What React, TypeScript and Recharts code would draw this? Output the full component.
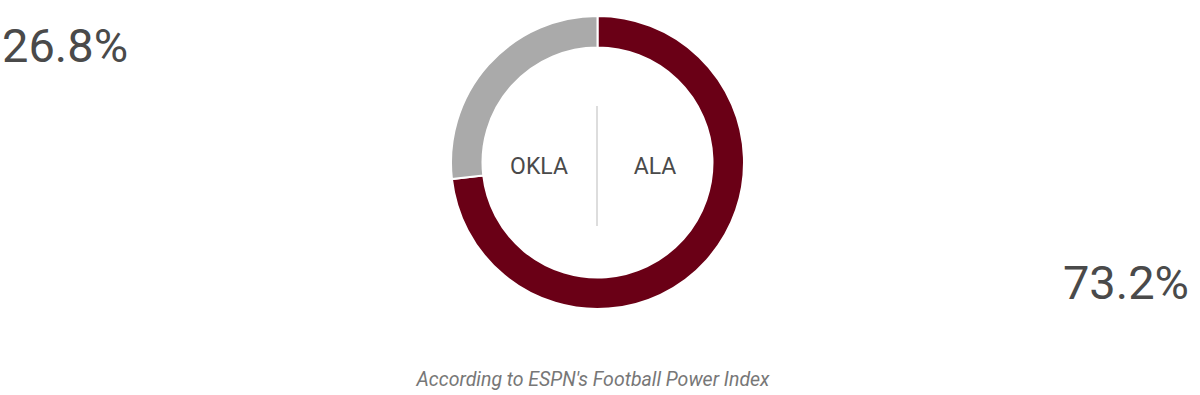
import { PieChart, Pie, Cell } from "recharts";

const teams = ["ALA", "OKLA"];
const winProb = [73.2, 26.8];
const teamColors = ["#6a0016", "#aaaaaa"];
const note = "According to ESPN's Football Power Index";

const data = teams.map((name, i) => ({ name, value: winProb[i] }));

const textStyle = {
  position: "absolute" as const,
  fontFamily: "Roboto, sans-serif",
  color: "#4a4a4a",
  whiteSpace: "nowrap" as const,
  lineHeight: 1,
};

export default function App() {
  return (
    <div style={{ position: "absolute", left: 0, top: 0, width: 1200, height: 395, background: "#fff" }}>
      <PieChart width={1200} height={395} margin={{ top: 0, right: 0, bottom: 0, left: 0 }}>
        <Pie
          data={data}
          dataKey="value"
          nameKey="name"
          cx={597.5}
          cy={162.5}
          innerRadius={115}
          outerRadius={146.5}
          startAngle={90}
          endAngle={-270}
          stroke="#fff"
          strokeWidth={2}
          isAnimationActive={false}
        >
          {data.map((d, i) => (
            <Cell key={d.name} fill={teamColors[i]} />
          ))}
        </Pie>
      </PieChart>

      <div style={{ position: "absolute", left: 596, top: 106, width: 2, height: 120, background: "#dddddd" }} />

      <div style={{ ...textStyle, left: 539, top: 166, fontSize: 23, transform: "translate(-50%, -50%)" }}>
        {teams[1]}
      </div>
      <div style={{ ...textStyle, left: 655, top: 166, fontSize: 23, transform: "translate(-50%, -50%)" }}>
        {teams[0]}
      </div>

      <div style={{ ...textStyle, left: 2, top: 22, fontSize: 47 }}>
        {winProb[1].toFixed(1)}%
      </div>
      <div style={{ ...textStyle, right: 11, top: 259, fontSize: 47 }}>
        {winProb[0].toFixed(1)}%
      </div>

      <div
        style={{
          ...textStyle,
          left: 593,
          top: 380,
          fontSize: 19.5,
          fontStyle: "italic",
          color: "#777",
          transform: "translate(-50%, -50%)",
        }}
      >
        {note}
      </div>
    </div>
  );
}
